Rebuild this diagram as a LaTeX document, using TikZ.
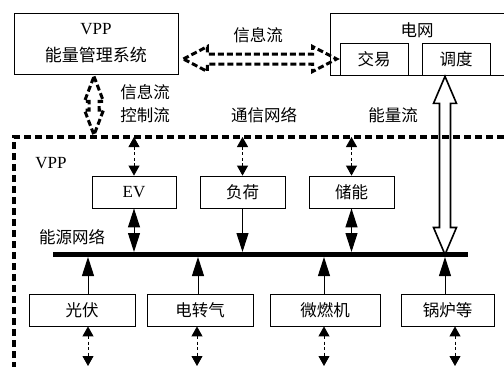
\documentclass[tikz,border=0pt]{standalone}
\usepackage{fontspec}
\setmainfont{Liberation Serif}
\newfontfamily\cjk{Noto Sans CJK SC}
\usetikzlibrary{arrows.meta, calc, positioning}

\tikzset{
  box/.style={draw, line width=0.8pt, minimum height=32pt, inner sep=0pt},
  cn/.style={font=\fontsize{16.5}{23}\selectfont\cjk},
  smalltip/.tip={Triangle[length=10pt, width=11pt]},
  bigtip/.tip={Triangle[length=19pt, width=12pt]},
  sig/.style={line width=0.9pt, dash pattern=on 3pt off 2.5pt, smalltip-smalltip},
  pwr/.style={line width=1pt, shorten >=2.5pt},
  border/.style={line width=3.2pt, dash pattern=on 7pt off 4pt},
  flow/.style={line width=3pt, dash pattern=on 6pt off 3pt, line join=miter},
}

% hollow double-headed arrow: [style]{start}{end}{half shaft}{half head}{head length}
\newcommand{\fatarrow}[6][]{%
  \coordinate (fa-s) at (#2);
  \coordinate (fa-e) at (#3);
  \coordinate (fa-1) at ($(fa-s)!#6!(fa-e)$);
  \coordinate (fa-2) at ($(fa-e)!#6!(fa-s)$);
  \draw[#1] (fa-s)
    -- ($(fa-1)!#5!90:(fa-e)$) -- ($(fa-1)!#4!90:(fa-e)$)
    -- ($(fa-2)!#4!-90:(fa-s)$) -- ($(fa-2)!#5!-90:(fa-s)$)
    -- (fa-e)
    -- ($(fa-2)!#5!90:(fa-s)$) -- ($(fa-2)!#4!90:(fa-s)$)
    -- ($(fa-1)!#4!-90:(fa-e)$) -- ($(fa-1)!#5!-90:(fa-e)$)
    -- cycle;
}

\begin{document}
\begin{tikzpicture}[x=1pt, y=-1pt, font=\fontsize{17}{23}\selectfont]
  \useasboundingbox (0,0) rectangle (504,367);
  \clip (0,0) rectangle (504,367);

  % Top: management system and grid
  \node[box, minimum width=164pt, minimum height=61pt, align=center] (vpp) at (96,43.5)
    {VPP\\[4pt]{\cjk 能量管理系统}};
  \node[box, minimum width=180pt, minimum height=62pt] (grid) at (420,44) {};
  \node[cn] (lbl-grid) at (417,30) {电网};
  \node[box, cn, minimum width=68pt] (jy) at (374,59) {交易};
  \node[box, cn, minimum width=68pt] (dd) at (456,59) {调度};

  % VPP border and bus
  \coordinate (brd) at (14,137);
  \coordinate (bot) at (14,366);
  \draw[border] (14,380) |- (520,137);
  \coordinate (bus-l) at (53,254.5);
  \coordinate (bus-r) at (468,254.5);
  \draw[line width=5pt] (bus-l) -- (bus-r);

  % Units
  \node[box, minimum width=84pt] (ev) at (134,192) {EV};
  \node[box, cn, minimum width=85pt] (load) at (242.5,192) {负荷};
  \node[box, cn, minimum width=85pt] (store) at (351.5,192) {储能};
  \node[box, cn, minimum width=106pt] (pv) at (82,310) {光伏};
  \node[box, cn, minimum width=106pt] (p2g) at (200,310) {电转气};
  \node[box, cn, minimum width=110pt] (mt) at (325,310) {微燃机};
  \node[box, cn, minimum width=93pt] (boiler) at (447.5,310) {锅炉等};

  % Labels
  \node[cn] (lbl-info) at (258,35) {信息流};
  \node[cn, align=center] (lbl-ctrl) at (145,104) {信息流\\控制流};
  \node[cn] (lbl-net) at (264,115) {通信网络};
  \node[cn] (lbl-flow) at (393,115) {能量流};
  \node (lbl-vpp) at (51,163) {VPP};
  \node[cn] (lbl-bus) at (72,237) {能源网络};

  % Information / control flows
  \fatarrow[flow]{$(vpp.east)+(5,15.5)$}{$(jy.west)+(-3,0)$}{5pt}{12.5pt}{24pt}
  \fatarrow[flow]{$(vpp.south)+(-2,2)$}{$(vpp.south |- brd)+(-2,-2)$}{5pt}{9.5pt}{25pt}

  % Communication links
  \foreach \n in {ev, load, store}
    \draw[sig] (\n.north |- brd) -- (\n.north);
  \foreach \n/\dx in {pv/6, p2g/-3, mt/-1, boiler/7.5}
    \draw[sig] ([xshift=\dx pt]\n.south) -- ([xshift=\dx pt]\n.south |- bot);

  % Energy links to the bus
  \draw[pwr, bigtip-bigtip] (ev.south) -- (ev.south |- bus-l);
  \draw[pwr, -bigtip] (load.south) -- (load.south |- bus-l);
  \draw[pwr, bigtip-bigtip] (store.south) -- (store.south |- bus-l);
  \foreach \n/\dx in {pv/6, p2g/-2, mt/-1, boiler/-2.5}
    \draw[pwr, -bigtip] ([xshift=\dx pt]\n.north) -- ([xshift=\dx pt]\n.north |- bus-l);

  % Energy flow between grid and bus
  \fatarrow[line width=1.6pt]{$(dd.south)+(-11,1)$}{$(dd.south |- bus-l)+(-11,0)$}{5.5pt}{11.5pt}{27pt}
\end{tikzpicture}
\end{document}
